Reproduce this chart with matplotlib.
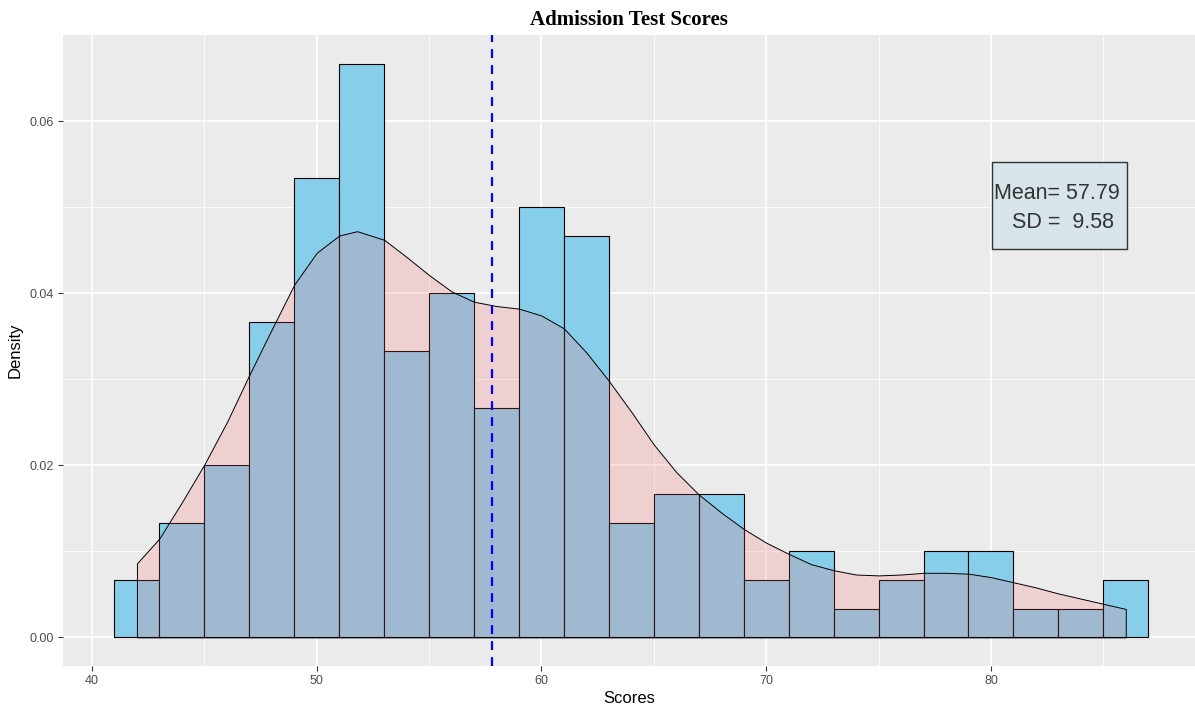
import matplotlib
matplotlib.use("Agg")
import matplotlib.pyplot as plt
from matplotlib.patches import Rectangle
import numpy as np

# histogram: bins of width 2 centred on even scores, n = 150 students
bin_centers = [42, 44, 46, 48, 50, 52, 54, 56, 58, 60, 62, 64,
               66, 68, 70, 72, 74, 76, 78, 80, 82, 84, 86]
bin_counts = [2, 4, 6, 11, 16, 20, 10, 12, 8, 15, 14, 4,
              5, 5, 2, 3, 1, 2, 3, 3, 1, 1, 2]
bin_width = 2
n_obs = 150

# kernel density curve
dens_x = [42.0, 43.0, 44.0, 45.0, 46.0, 47.0, 48.0, 49.0, 50.0, 51.0, 51.8,
          53.0, 54.0, 55.0, 56.0, 57.0, 58.0, 59.0, 60.0, 61.0, 62.0, 63.0,
          64.0, 65.0, 66.0, 67.0, 68.0, 69.0, 70.0, 71.0, 72.0, 73.0, 74.0,
          75.0, 76.0, 77.0, 78.0, 79.0, 80.0, 81.0, 82.0, 83.0, 84.0, 85.0, 86.0]
dens_y = [0.0086, 0.0115, 0.0157, 0.0201, 0.0250, 0.0305, 0.0358, 0.0410,
          0.0447, 0.0467, 0.0472, 0.0462, 0.0442, 0.0421, 0.0402, 0.0390,
          0.0385, 0.0382, 0.0374, 0.0359, 0.0331, 0.0298, 0.0262, 0.0224,
          0.0192, 0.0166, 0.0145, 0.0126, 0.0110, 0.0097, 0.0085, 0.0078,
          0.0073, 0.0072, 0.0073, 0.0075, 0.0075, 0.0074, 0.0070, 0.0064,
          0.0058, 0.0051, 0.0045, 0.0039, 0.0033]

score_mean = 57.79
score_sd = 9.58

x_ticks = [40, 50, 60, 70, 80]
y_ticks = [0.00, 0.02, 0.04, 0.06]
y_ticklabels = ["0.00", "0.02", "0.04", "0.06"]


def plot_scores():
    plt.rcParams['font.family'] = ['Liberation Sans', 'DejaVu Sans']
    fig = plt.figure(figsize=(11.95, 7.06), dpi=100)
    ax = fig.add_axes([63 / 1195, 1 - 666 / 706, 1 - 63 / 1195, 631 / 706])
    ax.set_facecolor('#EBEBEB')

    density = np.array(bin_counts) / (n_obs * bin_width)
    ax.bar(bin_centers, density, width=bin_width, color='#87CEEB',
           edgecolor='black', linewidth=0.8, zorder=2)

    ax.fill_between(dens_x, dens_y, 0, facecolor=(1, 0.4, 0.4, 0.2),
                    edgecolor='black', linewidth=0.7, zorder=3)

    ax.axvline(score_mean, color='blue', linestyle=(0, (4, 3.2)),
               linewidth=1.6, zorder=4)

    # summary label
    ax.add_patch(Rectangle((80.05, 0.0451), 6.0, 0.0101, facecolor='#D7E4EA',
                           edgecolor='#333333', linewidth=1.0, zorder=5))
    ax.text(82.95, 0.0499, f"Mean= {score_mean:.2f}\n  SD =  {score_sd:.2f}",
            ha='center', va='center', fontsize=15.5, color='#333333',
            linespacing=1.55, zorder=6)

    ax.set_xlim(38.71, 89.08)
    ax.set_ylim(-0.00333, 0.0700)
    ax.set_xticks(x_ticks)
    ax.set_xticks([45, 55, 65, 75, 85], minor=True)
    ax.set_yticks(y_ticks)
    ax.set_yticklabels(y_ticklabels)
    ax.set_yticks([0.01, 0.03, 0.05], minor=True)
    ax.grid(True, which='major', color='white', linewidth=1.2, zorder=0)
    ax.grid(True, which='minor', color='white', linewidth=0.6, zorder=0)
    ax.set_axisbelow(True)
    for s in ax.spines.values():
        s.set_visible(False)
    ax.tick_params(which='major', length=3.5, width=0.8, color='#333333',
                   labelsize=9, labelcolor='#4D4D4D', pad=3)
    ax.tick_params(which='minor', length=0)

    ax.set_xlabel('Scores', fontsize=12, color='black', labelpad=3)
    ax.set_ylabel('Density', fontsize=12, color='black', labelpad=5)
    ax.set_title('Admission Test Scores', fontsize=15, fontweight='bold',
                 family=['Liberation Serif', 'DejaVu Serif'], pad=7)

    fig.savefig('out.png', dpi=100)


if __name__ == "__main__":
    plot_scores()
